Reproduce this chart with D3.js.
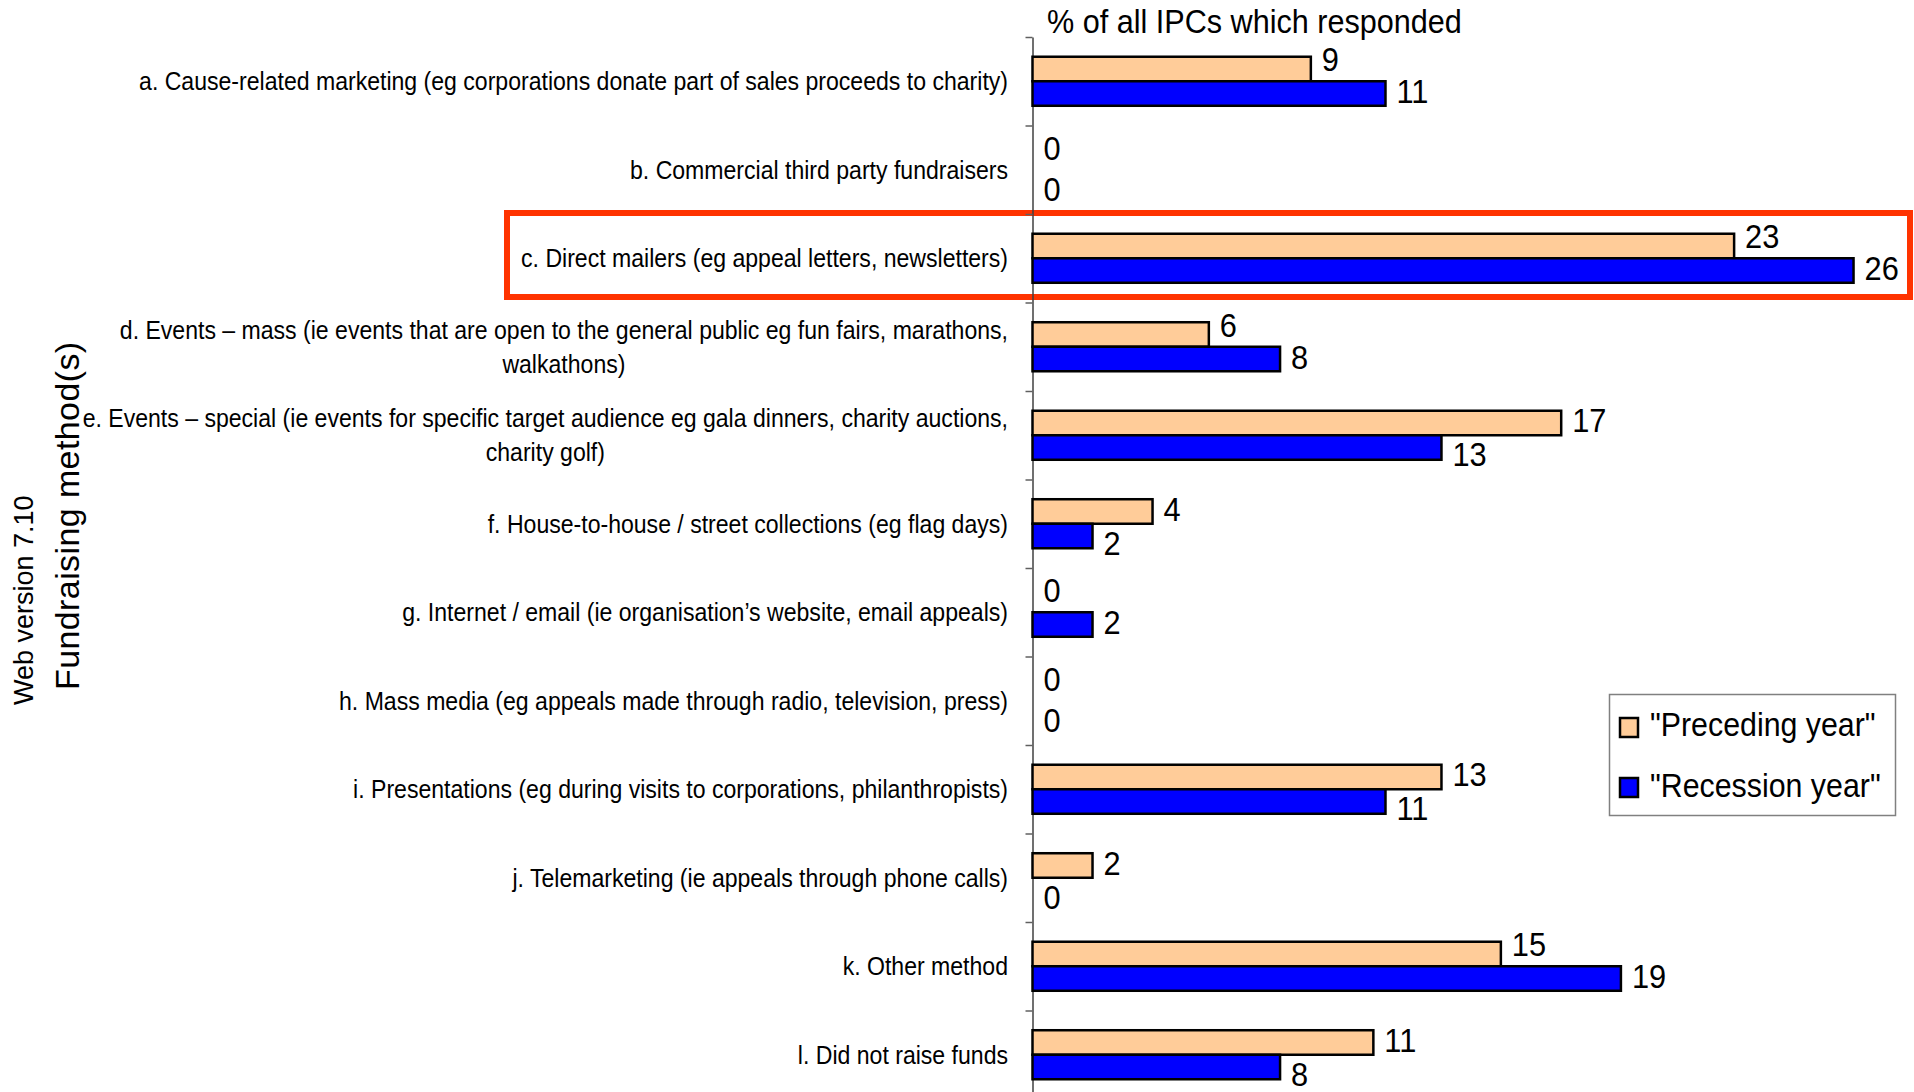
<!DOCTYPE html>
<html>
<head>
<meta charset="utf-8">
<script src="https://cdn.jsdelivr.net/npm/d3@7"></script>
<style>
  body { margin: 0; background: #fff; }
  text { font-family: "Liberation Sans", Arial, sans-serif; fill: #000; }
</style>
</head>
<body>
<div id="chart"></div>
<script>
// data (% of all IPCs which responded)
const categories = [
  "a. Cause-related marketing (eg corporations donate part of sales proceeds to charity)",
  "b. Commercial third party fundraisers",
  "c. Direct mailers (eg appeal letters, newsletters)",
  "d. Events – mass (ie events that are open to the general public eg fun fairs, marathons, walkathons)",
  "e. Events – special (ie events for specific target audience eg gala dinners, charity auctions, charity golf)",
  "f. House-to-house / street collections (eg flag days)",
  "g. Internet / email (ie organisation’s website, email appeals)",
  "h. Mass media (eg appeals made through radio, television, press)",
  "i. Presentations (eg during visits to corporations, philanthropists)",
  "j. Telemarketing (ie appeals through phone calls)",
  "k. Other method",
  "l. Did not raise funds"
];
const seriesNames = ["\"Preceding year\"", "\"Recession year\""];
const precedingYear = [8.95, 0, 22.56, 5.67, 17.0, 3.86, 0, 0, 13.15, 1.93, 15.06, 10.96];
const recessionYear = [11.35, 0, 26.4, 7.96, 13.15, 1.93, 1.93, 0, 11.35, 0, 18.92, 7.96];
const highlightIndex = 2;

const colors = ["#FFCC99", "#0000FF"];
const W = 1914, H = 1092;
const axisX = 1032.5, plotTop = 37, step = 88.5;
const sx = 0.905; // horizontal squeeze of the exported fonts

const svg = d3.select("#chart")
  .append("svg")
  .attr("width", W)
  .attr("height", H);

const series = [precedingYear, recessionYear];
const rows = categories.map((c, i) => ({ name: c, i: i, values: series.map(s => s[i]) }));

// scales
const x = d3.scaleLinear().domain([0, 28]).range([axisX, axisX + 28 * 31.1]);
const yIdx = d3.scaleLinear().domain([0, categories.length]).range([plotTop, plotTop + step * categories.length]);
const y0 = d3.scaleBand()
  .domain(d3.range(categories.length))
  .range(yIdx.range())
  .paddingInner(0.446)
  .paddingOuter(0.223);
const y1 = d3.scaleBand().domain([0, 1]).range([0, y0.bandwidth()]);

// highlight box round row c
svg.append("rect")
  .attr("x", 507)
  .attr("y", yIdx(highlightIndex) - 1)
  .attr("width", 1910 - 507)
  .attr("height", yIdx(highlightIndex + 1) - 5.5 - (yIdx(highlightIndex) - 1))
  .attr("fill", "none")
  .attr("stroke", "#FF3300")
  .attr("stroke-width", 6);

// category axis with ticks between categories
const axis = svg.append("g")
  .attr("transform", "translate(" + axisX + ",0)")
  .call(d3.axisLeft(yIdx).tickValues(d3.range(0, categories.length + 1)).tickFormat("").tickSize(7).tickSizeOuter(0));
axis.select(".domain").attr("stroke", "#404040").attr("stroke-width", 1.5);
axis.selectAll(".tick line").attr("stroke", "#606060").attr("stroke-width", 1.5);

// bars
const groups = svg.append("g")
  .selectAll("g")
  .data(rows)
  .enter()
  .append("g")
  .attr("transform", d => "translate(0," + y0(d.i) + ")");

groups.selectAll("rect")
  .data(d => d.values.map((v, k) => ({ v: v, k: k })))
  .enter()
  .append("rect")
  .attr("x", x(0))
  .attr("y", d => y1(d.k))
  .attr("width", d => x(d.v) - x(0))
  .attr("height", y1.bandwidth())
  .attr("fill", d => colors[d.k])
  .attr("stroke", "#000")
  .attr("stroke-width", 2.5);

// value labels, nudged away from the neighbouring bar like the original
const fmt = d3.format(".0f");
const valSize = 34;
groups.each(function (d) {
  const g = d3.select(this);
  const mid = y0.bandwidth() / 2; // line between the two bars
  d.values.forEach((v, k) => {
    const other = d.values[1 - k];
    let cy;
    if (k === 0) cy = mid + (other >= v ? -22 : -15);
    else cy = mid + (other >= v ? 19 : 10);
    g.append("g")
      .attr("transform", "translate(" + (x(v) + 11) + "," + cy + ") scale(" + sx + ",1)")
      .append("text")
      .attr("font-size", valSize)
      .attr("dy", 0.358 * valSize)
      .text(fmt(v));
  });
});

// category labels, right aligned, long ones wrapped and centred
const labelSize = 25.5;
const labelRight = 1008;
const maxLine = 950 / sx;
const labels = svg.append("g")
  .attr("transform", "translate(" + labelRight + ",0) scale(" + sx + ",1)");

rows.forEach(d => {
  const probe = labels.append("text").attr("font-size", labelSize);
  const words = d.name.split(" ");
  const lines = [];
  let line = [];
  words.forEach(w => {
    line.push(w);
    probe.text(line.join(" "));
    if (probe.node().getComputedTextLength() > maxLine && line.length > 1) {
      line.pop();
      lines.push(line.join(" "));
      line = [w];
    }
  });
  lines.push(line.join(" "));
  const widths = lines.map(l => { probe.text(l); return probe.node().getComputedTextLength(); });
  probe.remove();
  const maxW = d3.max(widths);
  const lh = 34;
  const cy = yIdx(d.i + 0.5);
  lines.forEach((l, j) => {
    labels.append("text")
      .attr("x", lines.length > 1 ? -maxW / 2 : 0)
      .attr("y", cy + (j - (lines.length - 1) / 2) * lh)
      .attr("dy", 0.358 * labelSize)
      .attr("text-anchor", lines.length > 1 ? "middle" : "end")
      .attr("font-size", labelSize)
      .text(l);
  });
});

// top title
svg.append("g")
  .attr("transform", "translate(1047,33) scale(0.9,1)")
  .append("text")
  .attr("font-size", 34)
  .text("% of all IPCs which responded");

// rotated left titles
svg.append("text")
  .attr("transform", "translate(79,690) rotate(-90)")
  .attr("font-size", 34)
  .attr("letter-spacing", 0.4)
  .text("Fundraising method(s)");

svg.append("text")
  .attr("transform", "translate(33,705) rotate(-90)")
  .attr("font-size", 27)
  .text("Web version 7.10");

// legend
const legend = svg.append("g");
legend.append("rect")
  .attr("x", 1609.5)
  .attr("y", 694.5)
  .attr("width", 286)
  .attr("height", 121)
  .attr("fill", "#fff")
  .attr("stroke", "#808080")
  .attr("stroke-width", 1.5);

seriesNames.forEach((s, k) => {
  legend.append("rect")
    .attr("x", 1620)
    .attr("y", 718 + k * 60)
    .attr("width", 18)
    .attr("height", 19)
    .attr("fill", colors[k])
    .attr("stroke", "#000")
    .attr("stroke-width", 2.5);
  legend.append("g")
    .attr("transform", "translate(1650," + (736 + k * 60.5) + ") scale(0.92,1)")
    .append("text")
    .attr("font-size", 33)
    .text(s);
});
</script>
</body>
</html>
